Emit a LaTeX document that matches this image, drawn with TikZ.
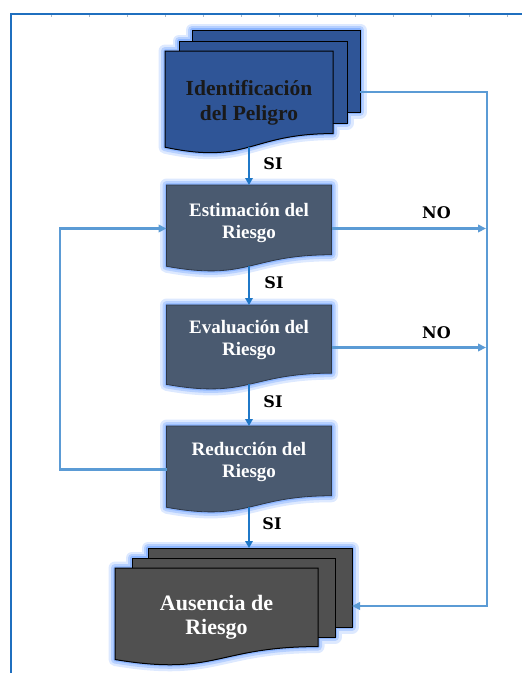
\documentclass[tikz,border=0pt]{standalone}
\usepackage{fontspec}
\setmainfont{Liberation Serif}
\newfontfamily\lblfont{DejaVu Serif}
\usetikzlibrary{arrows.meta}
\definecolor{frameblue}{HTML}{1F6FBF}
\definecolor{siblue}{HTML}{1F78C8}
\definecolor{lineblue}{HTML}{5B9BD5}
\definecolor{idfill}{HTML}{2F5597}
\definecolor{slatefill}{HTML}{4A5A70}
\definecolor{slateedge}{HTML}{2E3848}
\definecolor{ausfill}{HTML}{505050}
\definecolor{glowa}{HTML}{DDE9FF}
\definecolor{glowb}{HTML}{B6D0FF}
\definecolor{glowc}{HTML}{8DB6FF}
\definecolor{tickgray}{HTML}{A9B8C8}
% document shape path: x y w h -> \curdoc
\newcommand{\mkdoc}[4]{%
  \pgfmathsetmacro\dxr{#1+#3}\pgfmathsetmacro\dxm{#1+0.5*#3}%
  \pgfmathsetmacro\dya{#2+0.802*#4}\pgfmathsetmacro\dyb{#2+1.1075*#4}%
  \pgfmathsetmacro\dyc{#2+0.934*#4}%
  \edef\curdoc{(#1,#2) -- (\dxr,#2) -- (\dxr,\dya) .. controls (\dxm,\dya) and (\dxm,\dyb) .. (#1,\dyc) -- cycle}}
\tikzset{
  glowone/.style={draw=glowa,line width=13pt,line join=round},
  glowtwo/.style={draw=glowb,line width=8pt,line join=round},
  glowthree/.style={draw=glowc,line width=3.5pt,line join=round},
  idsheet/.style={fill=idfill,draw=black,line width=1pt},
  slatesheet/.style={fill=slatefill,draw=slateedge,line width=0.8pt},
  aussheet/.style={fill=ausfill,draw=black,line width=1pt},
  anchorbox/.style={draw=none,fill=none,inner sep=0pt,outer sep=0pt,anchor=north west},
  idtext/.style={inner sep=0pt,align=center,text=black!90,font=\bfseries\fontsize{21.5}{25}\selectfont},
  boxtext/.style={inner sep=0pt,align=center,text=white,font=\bfseries\fontsize{19}{22}\selectfont},
  austext/.style={inner sep=0pt,align=center,text=white,font=\bfseries\fontsize{22}{24}\selectfont},
  lbl/.style={inner sep=0pt,text=black,font=\lblfont\bfseries\fontsize{16}{18}\selectfont},
  siarrow/.style={draw=siblue,line width=2pt,-{Triangle[length=7pt,width=7.5pt]}},
  noline/.style={draw=lineblue,line width=2.2pt},
  noarrow/.style={noline,-{Triangle[length=8pt,width=7.5pt]}},
  frameline/.style={draw=frameblue,line width=2.2pt},
  tickmark/.style={draw=tickgray,line width=0.9pt}
}
\begin{document}
\begin{tikzpicture}[x=1pt,y=-1pt]
\useasboundingbox (0,0) rectangle (522,673);
% page frame
\draw[frameline] (11,673) -- (11,14) -- (522,14);
\foreach \i in {0,...,12}{\draw[tickmark] (51+38.05*\i,15.2) -- ++(0,2);}
% ---- shape paths
\mkdoc{165}{51}{168}{103}\let\idF\curdoc
\def\idM{(179,41) rectangle (347,123)}
\def\idB{(192,30) rectangle (360,112)}
\mkdoc{166.5}{185}{165}{87}\let\estP\curdoc
\mkdoc{166.5}{305}{165}{85}\let\evaP\curdoc
\mkdoc{166.5}{426}{165}{87}\let\redP\curdoc
\mkdoc{115}{568}{203}{98}\let\ausF\curdoc
\def\ausM{(132,558) rectangle (335,637)}
\def\ausB{(148,548) rectangle (352,627)}
% ---- glows
\foreach \g in {glowone,glowtwo,glowthree}{
  \draw[\g] \idB; \draw[\g] \idM; \draw[\g] \idF;
  \draw[\g] \estP; \draw[\g] \evaP; \draw[\g] \redP;
  \draw[\g] \ausB; \draw[\g] \ausM; \draw[\g] \ausF;
}
% ---- sheets
\draw[idsheet] \idB; \draw[idsheet] \idM; \draw[idsheet] \idF;
\draw[slatesheet] \estP; \draw[slatesheet] \evaP; \draw[slatesheet] \redP;
\draw[aussheet] \ausB; \draw[aussheet] \ausM; \draw[aussheet] \ausF;
% ---- anchor nodes
\node[anchorbox,minimum width=168pt,minimum height=103pt] (idp) at (165,51) {};
\node[anchorbox,minimum width=165pt,minimum height=87pt] (est) at (166.5,185) {};
\node[anchorbox,minimum width=165pt,minimum height=85pt] (eva) at (166.5,305) {};
\node[anchorbox,minimum width=165pt,minimum height=87pt] (red) at (166.5,426) {};
\node[anchorbox,minimum width=204pt,minimum height=79pt] (aus) at (148,548) {};
\coordinate (idp-b) at (249,147);
\coordinate (est-b) at (249,266.2);
\coordinate (eva-b) at (249,384.3);
\coordinate (red-b) at (249,507.2);
\coordinate (idp-r) at (360,92);
\coordinate (aus-r) at (352,606);
\coordinate (rail) at (487,92);
\coordinate (loopx) at (60,470);
% ---- texts
\node[idtext] (idp-t) at (249,102.4) {Identificación\\del Peligro};
\node[boxtext] (est-t) at (249,222.5) {Estimación del\\Riesgo};
\node[boxtext] (eva-t) at (249,340) {Evaluación del\\Riesgo};
\node[boxtext] (red-t) at (249,462) {Reducción del\\Riesgo};
\node[austext] (aus-t) at (216.5,617.5) {Ausencia de\\Riesgo};
% ---- connectors
\draw[siarrow] (idp-b) -- (est.north);
\draw[siarrow] (est-b) -- (eva.north);
\draw[siarrow] (eva-b) -- (red.north);
\draw[siarrow] (red-b) -- (red-b |- aus.north);
\draw[noarrow] (idp-r) -- (rail) |- (aus-r);
\draw[noarrow,shorten >=1pt] (est.east) -- (est.east -| rail);
\draw[noarrow,shorten >=1pt] (eva.east) -- (eva.east -| rail);
\draw[noarrow] (red.west) -- (red.west -| loopx) |- (est.west);
% ---- labels
\node[lbl] (si1) at (273,163.5) {SI};
\node[lbl] (si2) at (274,283) {SI};
\node[lbl] (si3) at (273,402) {SI};
\node[lbl] (si4) at (272,524) {SI};
\node[lbl] (no1) at (436.5,213) {NO};
\node[lbl] (no2) at (436.5,333) {NO};
\end{tikzpicture}
\end{document}
